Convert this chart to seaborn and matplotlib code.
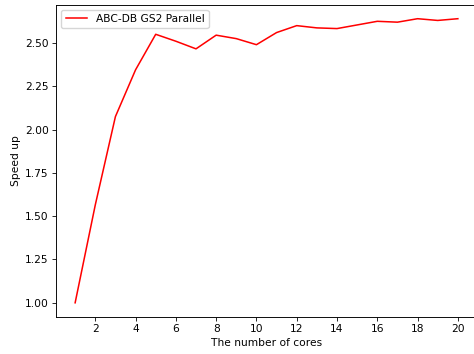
import matplotlib
matplotlib.use("Agg")
import matplotlib.pyplot as plt
import seaborn as sns
import pandas as pd

cores = list(range(1, 21))
speedup = [1.00, 1.565, 2.075, 2.345, 2.55, 2.51, 2.466, 2.545, 2.525, 2.49,
           2.56, 2.60, 2.587, 2.583, 2.604, 2.625, 2.62, 2.64, 2.63, 2.64]
label = "ABC-DB GS2 Parallel"

s = 0.74
fs = 7.7
plt.rcParams.update({
    "font.family": ["DejaVu Sans"],
    "font.size": fs,
    "axes.linewidth": 0.9 * s,
    "xtick.major.width": 0.8 * s,
    "ytick.major.width": 0.8 * s,
    "xtick.major.size": 3.5 * s,
    "ytick.major.size": 3.5 * s,
    "xtick.major.pad": 3.5 * s,
    "ytick.major.pad": 3.5 * s,
    "axes.labelpad": 4 * s,
})

df = pd.DataFrame({"cores": cores, "speedup": speedup, "series": label})

fig = plt.figure(figsize=(4.74, 3.54), dpi=100)
W, H = 474, 354
ax = fig.add_axes([56 / W, (H - 317) / H, (477 - 56) / W, (317 - 4.5) / H])
sns.lineplot(data=df, x="cores", y="speedup", hue="series", palette=["red"],
             linewidth=1.5 * s, ax=ax)
ax.set_xlabel("The number of cores")
ax.set_ylabel("Speed up")
ax.set_xticks([2, 4, 6, 8, 10, 12, 14, 16, 18, 20])
ax.set_yticks([1.0, 1.25, 1.5, 1.75, 2.0, 2.25, 2.5])
ax.set_yticklabels(["1.00", "1.25", "1.50", "1.75", "2.00", "2.25", "2.50"])
ax.legend(title=None, loc="upper left", fontsize=fs)
fig.savefig("out.png", dpi=100)
